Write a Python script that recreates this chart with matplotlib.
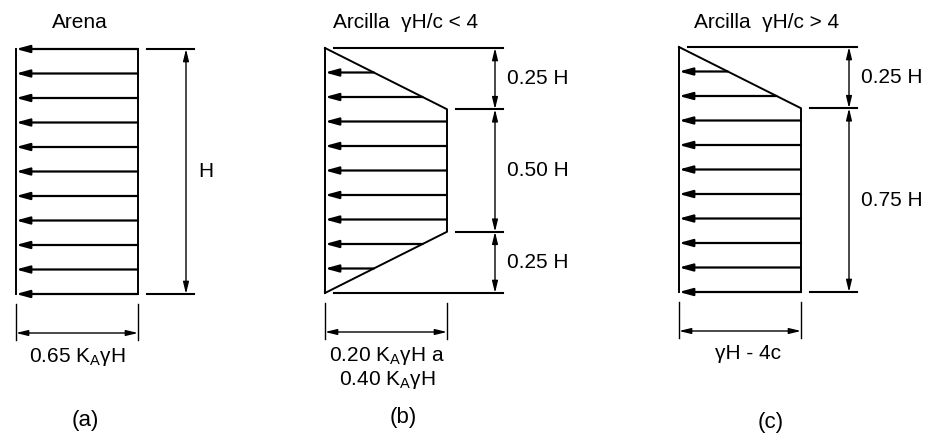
import matplotlib
matplotlib.use('Agg')
import matplotlib.pyplot as plt
import numpy as np

plt.rcParams['font.family'] = ['Liberation Sans', 'DejaVu Sans']
plt.rcParams['mathtext.fontset'] = 'custom'
plt.rcParams['mathtext.rm'] = 'Liberation Sans'

# pressure diagrams: depth (fraction of H from the top) and width (fraction of max pressure)
depth_a = [0.0, 1.0]
width_a = [1.0, 1.0]
depth_b = [0.0, 0.25, 0.75, 1.0]
width_b = [0.0, 1.0, 1.0, 0.0]
depth_c = [0.0, 0.25, 1.0]
width_c = [0.0, 1.0, 1.0]

arrow_depths = [0.0, 0.1, 0.2, 0.3, 0.4, 0.5, 0.6, 0.7, 0.8, 0.9, 1.0]

# height dimensions
dim_a = [0.0, 1.0]
dim_labels_a = ['H']
dim_b = [0.0, 0.25, 0.75, 1.0]
dim_labels_b = ['0.25 H', '0.50 H', '0.25 H']
dim_c = [0.0, 0.25, 1.0]
dim_labels_c = ['0.25 H', '0.75 H']

titles = ['Arena', 'Arcilla  γH/c < 4', 'Arcilla  γH/c > 4']
width_labels = ['0.65 $\\mathregular{K_A}$γH',
                '0.20 $\\mathregular{K_A}$γH a\n0.40 $\\mathregular{K_A}$γH',
                'γH - 4c']
panel_labels = ['(a)', '(b)', '(c)']

# layout (pixels)
H_PX = 245
W_PX = 122
x_wall = [16, 325, 679]
y_top = [49, 48, 47]
title_x = [80, 406, 767]
wlabel_x = [77, 387, 748]
letter_x = [85, 403, 771]
letter_y = [420, 417, 422]

fig = plt.figure(figsize=(9.25, 4.36), dpi=100)
ax = fig.add_axes([0, 0, 1, 1])
ax.set_xlim(0, 925)
ax.set_ylim(436, 0)
ax.axis('off')

big_arrow = dict(arrowstyle='-|>,head_length=0.8,head_width=0.22', lw=1.6, color='k',
                 shrinkA=0, shrinkB=0, mutation_scale=10)
dim_arrow = dict(arrowstyle='<|-|>,head_length=0.7,head_width=0.17', lw=1.0, color='k',
                 shrinkA=0, shrinkB=0, mutation_scale=10)

panels = [(depth_a, width_a, dim_a, dim_labels_a),
          (depth_b, width_b, dim_b, dim_labels_b),
          (depth_c, width_c, dim_c, dim_labels_c)]

for i, (depth, width, dims, dlabels) in enumerate(panels):
    x0 = x_wall[i]
    y0 = y_top[i]
    # wall and pressure outline
    ax.plot([x0, x0], [y0, y0 + H_PX], color='k', lw=1.4)
    ax.plot([x0 + w * W_PX for w in width], [y0 + d * H_PX for d in depth], color='k', lw=1.4)
    # pressure arrows
    for d in arrow_depths:
        w = np.interp(d, depth, width)
        if w <= 0:
            continue
        y = y0 + d * H_PX
        ax.annotate('', xy=(x0, y), xytext=(x0 + w * W_PX, y), arrowprops=big_arrow)

    # height dimension
    dim_x = x0 + W_PX + 48
    for d in dims:
        w = np.interp(d, depth, width)
        y = y0 + d * H_PX
        ax.plot([x0 + w * W_PX + 9, dim_x + 8], [y, y], color='k', lw=1.5)
    for k in range(len(dims) - 1):
        ya = y0 + dims[k] * H_PX
        yb = y0 + dims[k + 1] * H_PX
        ax.annotate('', xy=(dim_x, ya), xytext=(dim_x, yb), arrowprops=dim_arrow)
        ax.text(dim_x + 12, (ya + yb) / 2, dlabels[k], fontsize=15, ha='left', va='center')

    # width dimension
    yb = y0 + H_PX
    for xx in [x0, x0 + W_PX]:
        ax.plot([xx, xx], [yb + 10, yb + 46], color='k', lw=1.0)
    ax.annotate('', xy=(x0, yb + 39), xytext=(x0 + W_PX, yb + 39), arrowprops=dim_arrow)
    ax.text(wlabel_x[i], yb + 52, width_labels[i], fontsize=15, ha='center', va='top',
            linespacing=1.1)

    ax.text(title_x[i], 23, titles[i], fontsize=15, ha='center', va='center')
    ax.text(letter_x[i], letter_y[i], panel_labels[i], fontsize=16, ha='center', va='center')

fig.savefig('out.png', dpi=100, facecolor='white')
